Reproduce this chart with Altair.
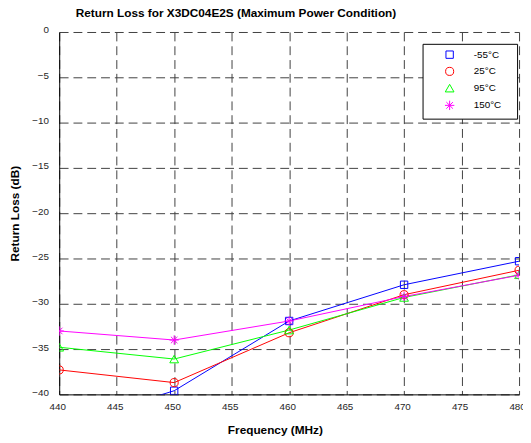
import altair as alt
import pandas as pd

# ---- data ----
freq = [440, 450, 460, 470, 480]
series = ["-55°C", "25°C", "95°C", "150°C"]
loss_m55 = [-43.5, -39.6, -31.9, -27.9, -25.3]
loss_25 = [-37.3, -38.7, -33.2, -29.0, -26.3]
loss_95 = [-34.8, -36.1, -32.9, -29.3, -26.8]
loss_150 = [-33.0, -34.0, -31.9, -29.2, -26.85]
x_ticks = [440, 445, 450, 455, 460, 465, 470, 475, 480]
y_ticks = [-40, -35, -30, -25, -20, -15, -10, -5, 0]

colors = ["#0000ff", "#ff0000", "#00ff00", "#ff00ff"]
asterisk = "M0,-1L0,1M-1,0L1,0M-0.7,-0.7L0.7,0.7M-0.7,0.7L0.7,-0.7"
shapes = ["square", "circle", "triangle-up", asterisk]
sizes = [56, 90, 110, 80]

# blank trailing characters widen the legend box to the reference's size
PAD = "\u00a0\u2800"
names = [s + PAD for s in series]

rows = []
for name, vals in zip(names, [loss_m55, loss_25, loss_95, loss_150]):
    for f, v in zip(freq, vals):
        rows.append({"series": name, "freq": f, "loss": v})
df = pd.DataFrame(rows)

FONT = "Liberation Sans"

x_enc = alt.X(
    "freq:Q",
    scale=alt.Scale(domain=[440, 480], nice=False, zero=False),
    axis=alt.Axis(
        values=x_ticks, title="Frequency (MHz)", grid=True, ticks=False, tickSize=0,
        labelPadding=7, labelOffset=-2, labelFontSize=10, labelFont=FONT, labelColor="#262626",
        titleFont=FONT, titleFontSize=12, titleFontWeight="bold", titleColor="black",
        titleX=219, titleY=36, titleAlign="center", titleBaseline="middle",
        domainColor="black", domainWidth=1, labelFlush=False,
    ),
)
y_enc = alt.Y(
    "loss:Q",
    scale=alt.Scale(domain=[-40, 0], nice=False, zero=False),
    axis=alt.Axis(
        values=y_ticks, title="Return Loss (dB)", grid=True, ticks=False, tickSize=0,
        labelPadding=11, labelOffset=-2, labelFontSize=10, labelFont=FONT, labelColor="#262626",
        titleFont=FONT, titleFontSize=12, titleFontWeight="bold", titleColor="black",
        titleX=-45, titleY=184, titleAlign="center", titleBaseline="middle",
        domainColor="black", domainWidth=1, labelFlush=False,
    ),
)

color_scale = alt.Scale(domain=names, range=colors)

lines = alt.Chart(df).mark_line(strokeWidth=1, clip=True).encode(
    x=x_enc, y=y_enc,
    stroke=alt.Stroke("series:N", scale=color_scale, legend=None),
    order=alt.Order("freq:Q"),
)

points = alt.Chart(df).mark_point(filled=False, strokeWidth=1, opacity=1, clip=True).encode(
    x=x_enc, y=y_enc,
    color=alt.Color("series:N", scale=color_scale, legend=alt.Legend(title=None)),
    shape=alt.Shape("series:N", scale=alt.Scale(domain=names, range=shapes),
                    legend=alt.Legend(title=None)),
    size=alt.Size("series:N", scale=alt.Scale(domain=names, range=sizes),
                  legend=alt.Legend(title=None)),
)

chart = (
    alt.layer(lines, points)
    .resolve_legend(stroke="independent", color="shared")
    .properties(
        width=467,
        height=368,
        autosize=alt.AutoSizeParams(type="none"),
        padding={"left": 52, "top": 21, "right": 4, "bottom": 46},
        title=alt.TitleParams(
            "Return Loss for X3DC04E2S (Maximum Power Condition)",
            font=FONT, fontSize=12, fontWeight="bold", color="black",
            anchor="middle", dx=-54, frame="group", offset=5,
        ),
    )
    .configure_view(stroke=None)
    .configure_axis(gridColor="#404040", gridDash=[9, 5], gridWidth=1, gridOpacity=1)
    .configure_legend(
        orient="none", legendX=369, legendY=12,
        fillColor="white", strokeColor="black", strokeWidth=1, cornerRadius=0,
        padding=6, rowPadding=4, symbolOffset=16, labelOffset=19,
        labelFont=FONT, labelFontSize=10, labelColor="black",
        symbolStrokeWidth=1,
    )
)

chart.save("out.html", embed_options={"renderer": "svg", "actions": False})
